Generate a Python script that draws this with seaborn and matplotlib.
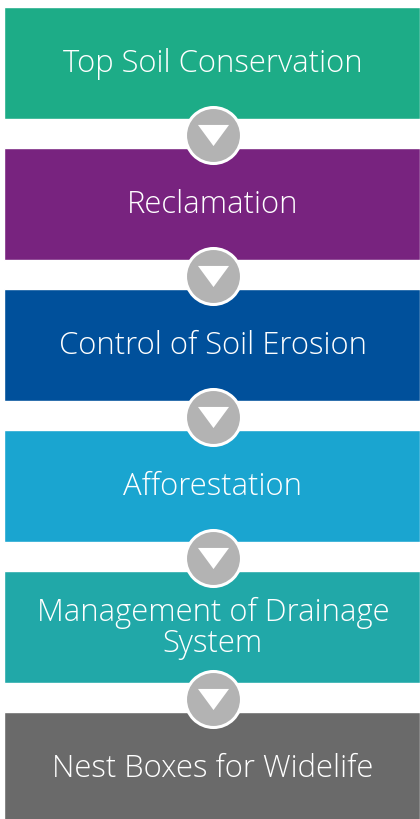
import matplotlib
matplotlib.use("Agg")
import matplotlib.pyplot as plt
import seaborn as sns
import pandas as pd

steps = ["Top Soil Conservation", "Reclamation", "Control of Soil Erosion",
         "Afforestation", "Management of Drainage\nSystem", "Nest Boxes for Widelife"]
step_values = [1, 1, 1, 1, 1, 1]
step_colors = ["#1DAC87", "#78237F", "#00509B", "#1AA5D0", "#21A8A8", "#6A6A6A"]
connector_pos = [0.51, 1.51, 2.51, 3.51, 4.51]

sns.set_theme(style="white")
plt.rcParams["font.family"] = ["Open Sans", "DejaVu Sans"]

fig = plt.figure(figsize=(4.2, 8.19), dpi=100)
ax = fig.add_axes([0, 0, 1, 1])

df = pd.DataFrame({"step": steps, "value": step_values})
sns.barplot(data=df, y="step", x="value", hue="step", palette=step_colors,
            orient="h", width=0.794, saturation=1, legend=False, ax=ax)

cdf = pd.DataFrame({"x": [0.5024] * len(connector_pos), "y": connector_pos})
sns.scatterplot(data=cdf, x="x", y="y", s=1625, color="#B3B3B3",
                edgecolor="white", linewidth=2.2, ax=ax, zorder=3)
tri = [(-1, 0.68), (1, 0.68), (0, -0.68), (-1, 0.68)]
sns.scatterplot(data=cdf, x="x", y="y", s=500, color="white", marker=tri,
                linewidth=0, ax=ax, zorder=4)

for i, label in enumerate(steps):
    ax.text(0.5024, i + 0.01, label, ha="center", va="center", color="white",
            fontsize=22.3, fontweight="light", linespacing=0.97, zorder=5)

ax.set_xlim(-4 / 416, 1.0)
ax.set_ylim(5.362, -0.447)
ax.axis("off")
fig.savefig("out.png", dpi=100)
